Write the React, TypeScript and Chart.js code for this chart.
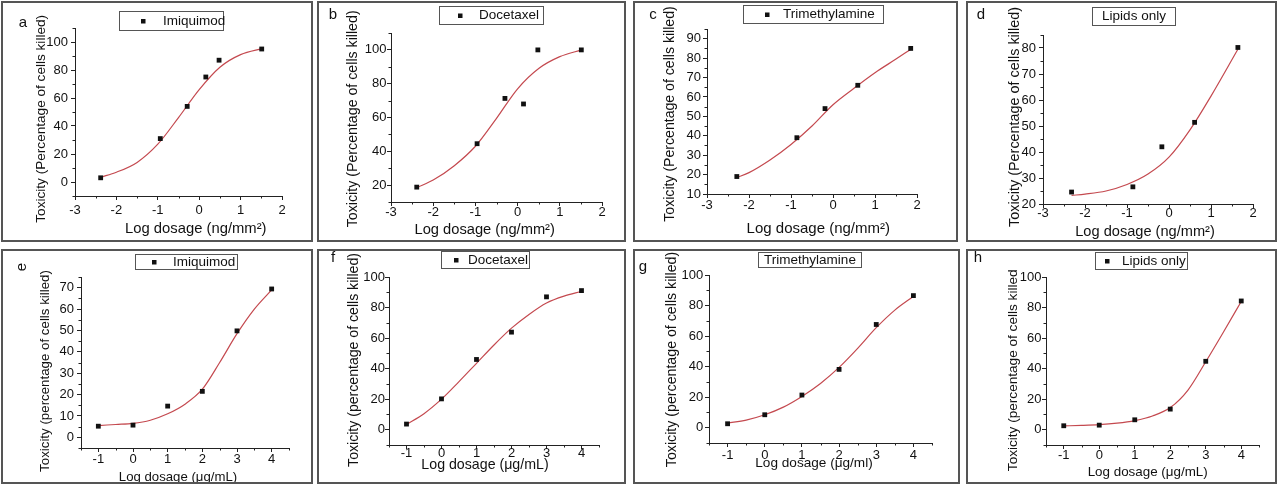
import React, { useEffect, useRef } from 'react';
import { Chart, registerables } from 'chart.js';

Chart.register(...registerables);

const FONT = '"Liberation Sans", Arial, Helvetica, sans-serif';

// ---------- tick labels ----------
const topDoseTicks = [-3, -2, -1, 0, 1, 2];
const bottomDoseTicks = [-1, 0, 1, 2, 3, 4];
const yTicksA = [0, 20, 40, 60, 80, 100];
const yTicksB = [20, 40, 60, 80, 100];
const yTicksC = [10, 20, 30, 40, 50, 60, 70, 80, 90];
const yTicksD = [20, 30, 40, 50, 60, 70, 80];
const yTicksE = [0, 10, 20, 30, 40, 50, 60, 70];
const yTicksFGH = [0, 20, 40, 60, 80, 100];

// ---------- series: (a) Imiquimod, ng/mm² ----------
const doseA = [-2.38, -0.94, -0.29, 0.16, 0.48, 1.51];
const toxA = [3, 31, 54, 75, 87, 95];
const fitDoseA = [-2.38, -2, -1.5, -1, -0.5, 0, 0.5, 1, 1.55];
const fitToxA = [3.5, 7, 14, 27, 46, 66, 82, 91, 95.5];

// ---------- (b) Docetaxel, ng/mm² ----------
const doseB = [-2.39, -0.96, -0.3, 0.14, 0.48, 1.51];
const toxB = [18.8, 44.5, 71.3, 68, 100, 100];
const fitDoseB = [-2.39, -2, -1.5, -1, -0.5, 0, 0.5, 1, 1.51];
const fitToxB = [18.5, 23, 31.5, 43, 59.5, 77, 89, 96, 100];

// ---------- (c) Trimethylamine, ng/mm² ----------
const doseC = [-2.29, -0.86, -0.19, 0.59, 1.85];
const toxC = [19, 39, 54, 66, 85];
const fitDoseC = [-2.29, -2, -1.5, -1, -0.5, 0, 0.5, 1, 1.5, 1.85];
const fitToxC = [18.5, 21, 27.5, 35.5, 45, 56, 64.5, 72.5, 79.5, 84.5];

// ---------- (d) Lipids only, ng/mm² ----------
const doseD = [-2.32, -0.86, -0.17, 0.61, 1.64];
const toxD = [24.6, 26.6, 42, 51.4, 80.2];
const fitDoseD = [-2.32, -2, -1.5, -1, -0.5, 0, 0.5, 1, 1.64];
const fitToxD = [23.3, 23.8, 25, 27.5, 31.5, 38, 48.5, 61.5, 79.5];

// ---------- (e) Imiquimod, µg/mL ----------
const doseE = [-1, 0, 1, 2, 3, 4];
const toxE = [5.2, 5.7, 14.6, 21.5, 49.8, 69.4];
const fitDoseE = [-1, -0.5, 0, 0.5, 1, 1.5, 2, 2.5, 3, 3.5, 4];
const fitToxE = [5.5, 6, 6.5, 8, 11, 15.5, 22.5, 35, 48.5, 60, 69];

// ---------- (f) Docetaxel, µg/mL ----------
const doseF = [-1, 0, 1, 2, 3, 4];
const toxF = [3.7, 20.2, 46, 63.9, 87, 91.1];
const fitDoseF = [-1, -0.5, 0, 0.5, 1, 1.5, 2, 2.5, 3, 3.5, 4];
const fitToxF = [3.5, 10.5, 20, 31.5, 43.5, 55.5, 66.5, 75.5, 83, 87.5, 90.5];

// ---------- (g) Trimethylamine, µg/ml ----------
const doseG = [-1, 0, 1, 2, 3, 4];
const toxG = [2.6, 8.5, 21.4, 38.2, 67.6, 86.5];
const fitDoseG = [-1, -0.5, 0, 0.5, 1, 1.5, 2, 2.5, 3, 3.5, 4];
const fitToxG = [3, 5, 8.5, 13.5, 20.5, 29, 39.5, 52, 65.5, 77, 86];

// ---------- (h) Lipids only, µg/mL ----------
const doseH = [-1, 0, 1, 2, 3, 4];
const toxH = [2.6, 3, 6.5, 13.5, 44.8, 84.3];
const fitDoseH = [-1, -0.5, 0, 0.5, 1, 1.5, 2, 2.5, 3, 3.5, 4];
const fitToxH = [2.5, 2.8, 3.3, 4.3, 6, 9, 14.5, 26, 44.5, 64, 84];

// ---------- texts ----------
const yTitleTop = 'Toxicity (Percentage of cells killed)';
const yTitleBottom = 'Toxicity (percentage of cells killed)';
const yTitleBottomCut = 'Toxicity (percentage of cells killed';
const xTitleNg = 'Log dosage (ng/mm\u00B2)';
const xTitleUgML = 'Log dosage (\u03BCg/mL)';
const xTitleUgml = 'Log dosage (\u03BCg/ml)';

type Legend = { text: string; box: number[]; marker: number | null; textX: number };
type Panel = {
  left: number; top: number; w: number; h: number; area: number[];
  xMin: number; xMax: number; xTicks: number[];
  yMin: number; yMax: number; yTicks: number[];
  px: number[]; py: number[]; cx: number[]; cy: number[];
  yTitle: string; xTitle: string;
  yTitleAt: number[]; xTitleAt: number[];
  xTickPad: number; yTickPad: number;
  letter: { text: string; x: number; y: number; rotated?: boolean };
  legend: Legend;
};

const PANELS: Panel[] = [
  { left: 1, top: 1, w: 312, h: 241, area: [72, 25, 279, 193], xMin: -3, xMax: 2, xTicks: topDoseTicks,
    yMin: -10, yMax: 110, yTicks: yTicksA, px: doseA, py: toxA, cx: fitDoseA, cy: fitToxA,
    yTitle: yTitleTop, xTitle: xTitleNg, yTitleAt: [38.7, 115.8, 13.6], xTitleAt: [192.8, 226.3, 14.8],
    xTickPad: 2.5, yTickPad: 3,
    letter: { text: 'a', x: 20, y: 20 }, legend: { text: 'Imiquimod', box: [116, 8, 220, 27], marker: 140, textX: 160 } },
  { left: 317, top: 1, w: 309, h: 241, area: [72, 30, 283, 199], xMin: -3, xMax: 2, xTicks: topDoseTicks,
    yMin: 10, yMax: 110, yTicks: yTicksB, px: doseB, py: toxB, cx: fitDoseB, cy: fitToxB,
    yTitle: yTitleTop, xTitle: xTitleNg, yTitleAt: [34.3, 115.8, 14.2], xTitleAt: [165.7, 227, 14.7],
    xTickPad: -1, yTickPad: 0.5,
    letter: { text: 'b', x: 14, y: 12 }, legend: { text: 'Docetaxel', box: [120, 3, 224, 21], marker: 141, textX: 160 } },
  { left: 633, top: 1, w: 325, h: 241, area: [72, 26, 282, 191], xMin: -3, xMax: 2, xTicks: topDoseTicks,
    yMin: 10, yMax: 95, yTicks: yTicksC, px: doseC, py: toxC, cx: fitDoseC, cy: fitToxC,
    yTitle: yTitleTop, xTitle: xTitleNg, yTitleAt: [35, 111, 14.1], xTitleAt: [183.3, 226.3, 15],
    xTickPad: -0.5, yTickPad: 2,
    letter: { text: 'c', x: 18, y: 12 }, legend: { text: 'Trimethylamine', box: [108, 2, 248, 20], marker: 132, textX: 148 } },
  { left: 966, top: 1, w: 311, h: 241, area: [75, 32, 285, 201], xMin: -3, xMax: 2, xTicks: topDoseTicks,
    yMin: 20, yMax: 85, yTicks: yTicksD, px: doseD, py: toxD, cx: fitDoseD, cy: fitToxD,
    yTitle: yTitleTop, xTitle: xTitleNg, yTitleAt: [47, 114, 14.4], xTitleAt: [177, 228.7, 14.6],
    xTickPad: -2.5, yTickPad: 3,
    letter: { text: 'd', x: 13, y: 12 }, legend: { text: 'Lipids only', box: [124, 4, 207, 22], marker: null, textX: 0 } },
  { left: 1, top: 249, w: 312, h: 235, area: [78, 26, 286, 197], xMin: -1.5, xMax: 4.5, xTicks: bottomDoseTicks,
    yMin: -5, yMax: 75, yTicks: yTicksE, px: doseE, py: toxE, cx: fitDoseE, cy: fitToxE,
    yTitle: yTitleBottom, xTitle: xTitleUgML, yTitleAt: [42.7, 120, 13.3], xTitleAt: [175, 226, 13.2],
    xTickPad: 0, yTickPad: 3,
    letter: { text: 'e', x: 19, y: 16, rotated: true }, legend: { text: 'Imiquimod', box: [132, 3, 234, 18], marker: 151, textX: 170 } },
  { left: 317, top: 249, w: 309, h: 235, area: [70, 26, 280, 194], xMin: -1.5, xMax: 4.5, xTicks: bottomDoseTicks,
    yMin: -10, yMax: 100, yTicks: yTicksFGH, px: doseF, py: toxF, cx: fitDoseF, cy: fitToxF,
    yTitle: yTitleBottom, xTitle: xTitleUgML, yTitleAt: [35.3, 109, 14.1], xTitleAt: [166, 213.7, 14.2],
    xTickPad: -3, yTickPad: 0,
    letter: { text: 'f', x: 14, y: 7 }, legend: { text: 'Docetaxel', box: [122, 0, 210, 17], marker: 137, textX: 149 } },
  { left: 633, top: 249, w: 327, h: 235, area: [74, 24, 297, 192], xMin: -1.5, xMax: 4.5, xTicks: bottomDoseTicks,
    yMin: -10, yMax: 100, yTicks: yTicksFGH, px: doseG, py: toxG, cx: fitDoseG, cy: fitToxG,
    yTitle: yTitleBottom, xTitle: xTitleUgml, yTitleAt: [36.7, 108.5, 14.2], xTitleAt: [179, 212.7, 13.6],
    xTickPad: 0.5, yTickPad: 1.7,
    letter: { text: 'g', x: 8, y: 16 }, legend: { text: 'Trimethylamine', box: [123, 1, 226, 16], marker: null, textX: 0 } },
  { left: 966, top: 249, w: 311, h: 235, area: [78, 26, 291, 194], xMin: -1.5, xMax: 4.5, xTicks: bottomDoseTicks,
    yMin: -10, yMax: 100, yTicks: yTicksFGH, px: doseH, py: toxH, cx: fitDoseH, cy: fitToxH,
    yTitle: yTitleBottomCut, xTitle: xTitleUgML, yTitleAt: [45.3, 119.3, 13.6], xTitleAt: [179.7, 221, 13.4],
    xTickPad: -1.5, yTickPad: 0.5,
    letter: { text: 'h', x: 10, y: 7 }, legend: { text: 'Lipids only', box: [127, 1, 219, 18], marker: 139, textX: 154 } },
];

function minorTicks(major: number[], min: number, max: number): number[] {
  const step = major[1] - major[0];
  const out: number[] = [];
  for (let v = major[0] - step / 2; v <= max + 1e-9; v += step) {
    if (v >= min - 1e-9) out.push(v);
  }
  return out;
}

const decorPlugin = {
  id: 'panelDecor',
  afterDraw(chart: any, _args: any, opts: any) {
    const ctx = chart.ctx as CanvasRenderingContext2D;
    const area = chart.chartArea;
    ctx.save();
    // minor ticks
    ctx.strokeStyle = '#222';
    ctx.lineWidth = 1;
    const xs = chart.scales.x;
    const ys = chart.scales.y;
    for (const v of opts.minorX as number[]) {
      const p = Math.round(xs.getPixelForValue(v)) + 0.5;
      ctx.beginPath();
      ctx.moveTo(p, area.bottom);
      ctx.lineTo(p, area.bottom + 2.5);
      ctx.stroke();
    }
    for (const v of opts.minorY as number[]) {
      const p = Math.round(ys.getPixelForValue(v)) + 0.5;
      ctx.beginPath();
      ctx.moveTo(area.left, p);
      ctx.lineTo(area.left - 2.5, p);
      ctx.stroke();
    }
    ctx.fillStyle = '#111';
    ctx.textAlign = 'center';
    ctx.textBaseline = 'middle';
    // axis titles
    const [xx, xy, xsz] = opts.xTitleAt as number[];
    ctx.font = `${xsz}px ${FONT}`;
    ctx.fillText(opts.xTitle, xx, xy);
    const [yx, yy, ysz] = opts.yTitleAt as number[];
    ctx.save();
    ctx.translate(yx, yy);
    ctx.rotate(-Math.PI / 2);
    ctx.font = `${ysz}px ${FONT}`;
    ctx.fillText(opts.yTitle, 0, 0);
    ctx.restore();
    // panel letter
    ctx.font = `15px ${FONT}`;
    if (opts.letter.rotated) {
      ctx.save();
      ctx.translate(opts.letter.x, opts.letter.y);
      ctx.rotate(-Math.PI / 2);
      ctx.fillText(opts.letter.text, 0, 0);
      ctx.restore();
    } else {
      ctx.fillText(opts.letter.text, opts.letter.x, opts.letter.y);
    }
    // legend
    const lg = opts.legend as Legend;
    const [x0, y0, x1, y1] = lg.box;
    ctx.strokeStyle = '#555';
    ctx.lineWidth = 1;
    ctx.strokeRect(x0 + 0.5, y0 + 0.5, x1 - x0, y1 - y0);
    const cy = (y0 + y1) / 2 + 0.5;
    ctx.font = `13.5px ${FONT}`;
    if (lg.marker !== null) {
      ctx.fillRect(lg.marker - 2, cy - 2, 4.5, 4.5);
      ctx.textAlign = 'left';
      ctx.fillText(lg.text, lg.textX, cy);
    } else {
      ctx.textAlign = 'center';
      ctx.fillText(lg.text, (x0 + x1) / 2 + 0.5, cy);
    }
    ctx.restore();
  },
};

function PanelChart({ p }: { p: Panel }) {
  const ref = useRef<HTMLCanvasElement | null>(null);
  const W = p.w - 4;
  const H = p.h - 4;
  useEffect(() => {
    if (!ref.current) return;
    const [L, T, R, B] = p.area;
    const tickFont = { family: FONT, size: 13 };
    const chart = new Chart(ref.current, {
      type: 'scatter',
      data: {
        datasets: [
          {
            data: p.px.map((x, i) => ({ x, y: p.py[i] })),
            showLine: false,
            pointStyle: 'rect',
            pointRadius: 3.4,
            pointBackgroundColor: '#111',
            pointBorderColor: '#111',
            pointBorderWidth: 0,
          },
          {
            data: p.cx.map((x, i) => ({ x, y: p.cy[i] })),
            showLine: true,
            pointRadius: 0,
            borderColor: '#c4494f',
            borderWidth: 1.2,
            cubicInterpolationMode: 'monotone',
            fill: false,
          },
        ],
      } as any,
      options: {
        animation: false,
        responsive: false,
        devicePixelRatio: 1,
        events: [],
        layout: { padding: { left: 0, top: T, right: W - R, bottom: 0 } },
        plugins: {
          legend: { display: false },
          tooltip: { enabled: false },
          panelDecor: {
            letter: p.letter,
            legend: p.legend,
            xTitle: p.xTitle,
            yTitle: p.yTitle,
            xTitleAt: p.xTitleAt,
            yTitleAt: p.yTitleAt,
            minorX: minorTicks(p.xTicks, p.xMin, p.xMax),
            minorY: minorTicks(p.yTicks, p.yMin, p.yMax),
          },
        } as any,
        scales: {
          x: {
            type: 'linear',
            min: p.xMin,
            max: p.xMax,
            afterBuildTicks: (s: any) => { s.ticks = p.xTicks.map((v) => ({ value: v })); },
            afterFit: (s: any) => { s.height = H - B; },
            ticks: { font: tickFont, color: '#111', padding: p.xTickPad, autoSkip: false, maxRotation: 0, callback: (v: any) => String(v) },
            grid: { display: true, drawOnChartArea: false, drawTicks: true, tickLength: 4, tickColor: '#222', tickWidth: 1 },
            border: { display: true, color: '#222', width: 1 },
            title: { display: false },
          },
          y: {
            type: 'linear',
            min: p.yMin,
            max: p.yMax,
            afterBuildTicks: (s: any) => { s.ticks = p.yTicks.map((v) => ({ value: v })); },
            afterFit: (s: any) => { s.width = L; },
            ticks: { font: tickFont, color: '#111', padding: p.yTickPad, autoSkip: false, callback: (v: any) => String(v) },
            grid: { display: true, drawOnChartArea: false, drawTicks: true, tickLength: 4, tickColor: '#222', tickWidth: 1 },
            border: { display: true, color: '#222', width: 1 },
            title: { display: false },
          },
        } as any,
      },
      plugins: [decorPlugin as any],
    });
    return () => chart.destroy();
  }, [p, W, H]);
  return (
    <div
      style={{
        position: 'absolute',
        left: p.left,
        top: p.top,
        width: p.w,
        height: p.h,
        boxSizing: 'border-box',
        border: '2px solid #555',
        background: '#fff',
        overflow: 'hidden',
      }}
    >
      <canvas ref={ref} width={W} height={H} style={{ display: 'block', width: W, height: H }} />
    </div>
  );
}

export default function App() {
  return (
    <div style={{ position: 'absolute', left: 0, top: 0, width: 1281, height: 485, background: '#fff' }}>
      {PANELS.map((p, i) => (
        <PanelChart key={i} p={p} />
      ))}
    </div>
  );
}
